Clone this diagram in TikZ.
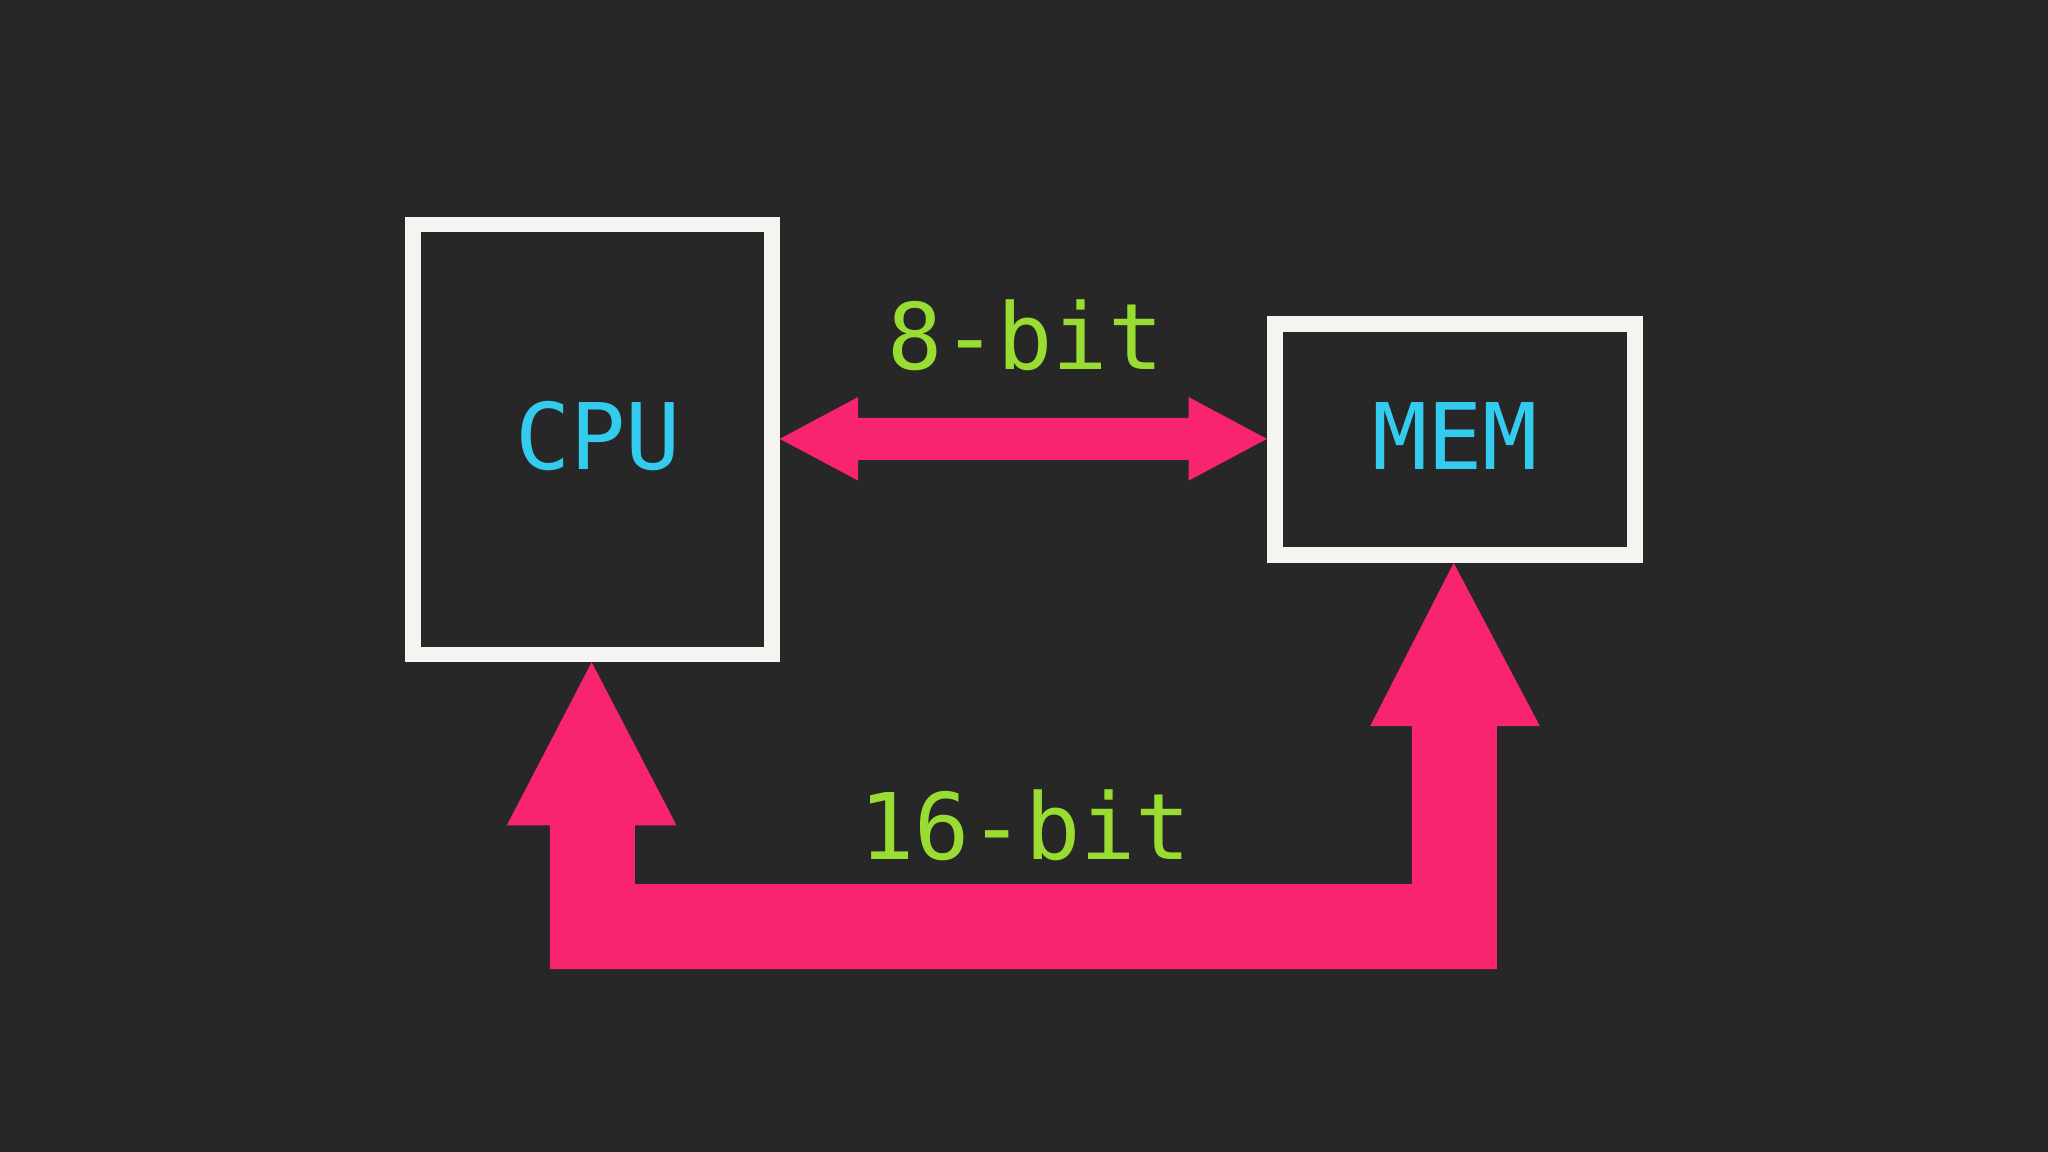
\documentclass[tikz,border=0pt]{standalone}
\usepackage{fontspec}
\setmonofont{DejaVu Sans Mono}
\definecolor{bg}{HTML}{272727}
\definecolor{pink}{HTML}{F82470}
\definecolor{cy}{HTML}{33CCEE}
\definecolor{gr}{HTML}{99DD33}
\definecolor{wh}{HTML}{F4F4F0}
\begin{document}
\begin{tikzpicture}[x=0.01cm,y=-0.01cm,
  box/.style={draw=wh,line width=12*0.01cm,inner sep=0,outer sep=0},
  lbl/.style={font=\ttfamily\fontsize{20}{20}\selectfont},
  bus/.style={fill=pink,draw=none}]
\fill[bg] (0,0) rectangle (1568,882);
\useasboundingbox (0,0) rectangle (1568,882);
\draw[box] (316,172) rectangle (591,501);
\draw[box] (976,248) rectangle (1252,425);
\node[lbl,text=cy] (cpu) at (458,334) {CPU};
\node[lbl,text=cy] (mem) at (1114,334) {MEM};
\node[lbl,text=gr] (b8) at (785,257) {8-bit};
\node[lbl,text=gr] (b16) at (785,632) {16-bit};
\fill[bus] (597,336) -- (657,304) -- (657,320) -- (910,320) -- (910,304) -- (970,336)
  -- (910,368) -- (910,352) -- (657,352) -- (657,368) -- cycle;
\fill[bus] (453,507) -- (518,632) -- (486,632) -- (486,677) -- (1081,677) -- (1081,556)
  -- (1049,556) -- (1113,431) -- (1179,556) -- (1146,556) -- (1146,742) -- (421,742)
  -- (421,632) -- (388,632) -- cycle;
\end{tikzpicture}
\end{document}
